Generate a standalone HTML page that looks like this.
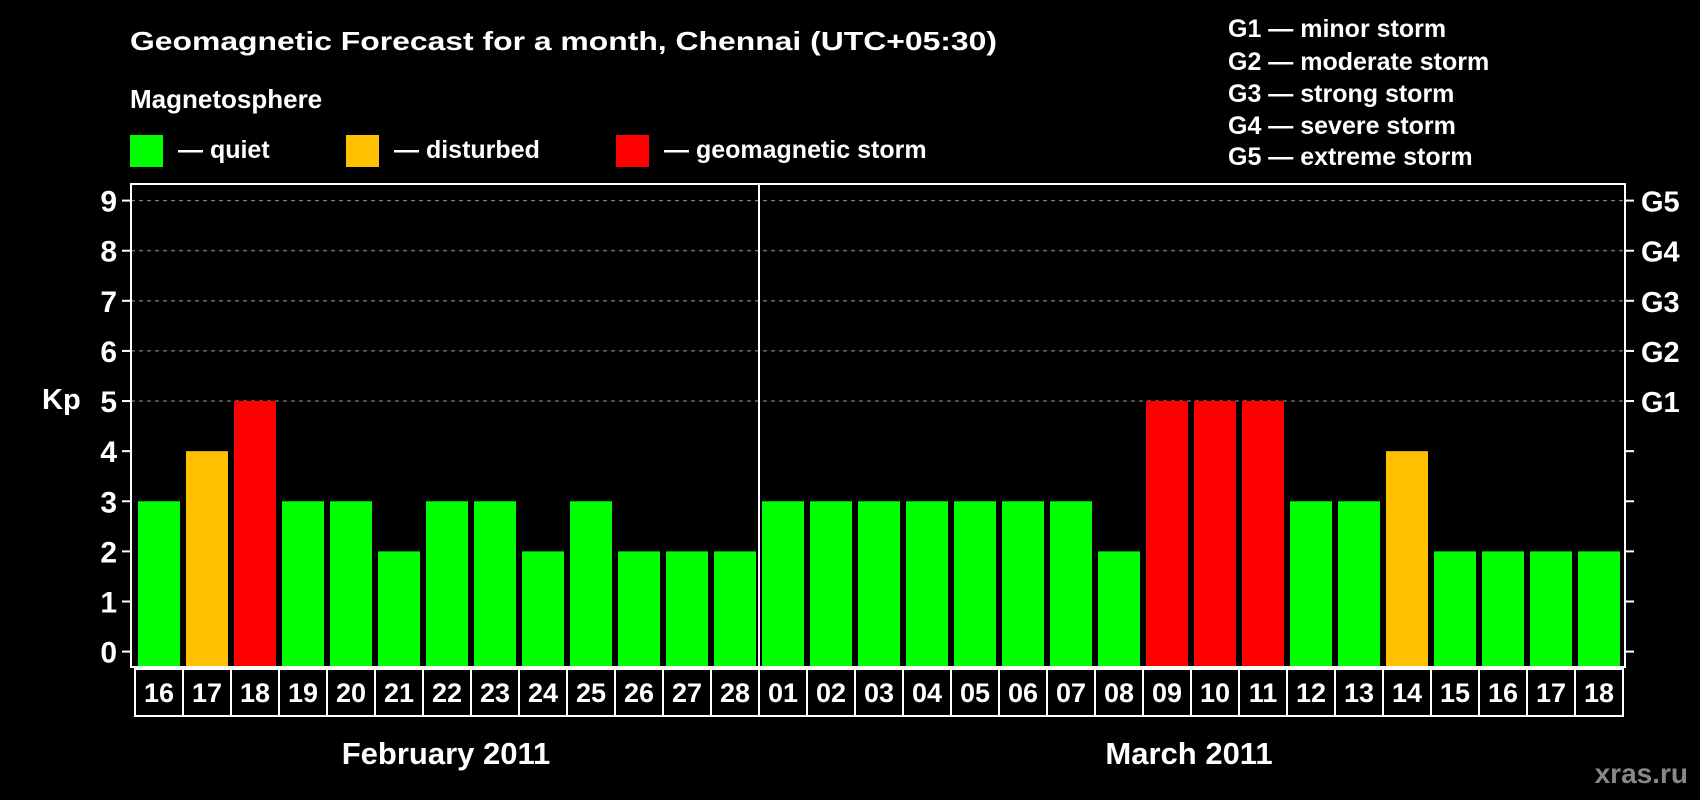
<!DOCTYPE html>
<html><head><meta charset="utf-8"><style>
html,body{margin:0;padding:0;background:#000;}
svg{display:block;font-family:"Liberation Sans",Arial,sans-serif;font-weight:bold;}
</style></head><body>
<svg id="chart" width="1700" height="800" viewBox="0 0 1700 800">
<rect width="1700" height="800" fill="#000"/>
<text x="130" y="50" fill="#fff" font-size="26" textLength="867" lengthAdjust="spacingAndGlyphs">Geomagnetic Forecast for a month, Chennai (UTC+05:30)</text>
<text x="130" y="108" fill="#fff" font-size="26">Magnetosphere</text>
<g><rect x="130" y="135" width="33" height="32" fill="#00ff00"/><text x="178" y="158" fill="#fff" font-size="25">— quiet</text></g>
<g><rect x="346" y="135" width="33" height="32" fill="#ffc000"/><text x="394" y="158" fill="#fff" font-size="25">— disturbed</text></g>
<g><rect x="616" y="135" width="33" height="32" fill="#ff0000"/><text x="664" y="158" fill="#fff" font-size="25">— geomagnetic storm</text></g>
<g fill="#fff" font-size="25">
<text x="1228" y="37">G1 — minor storm</text>
<text x="1228" y="70">G2 — moderate storm</text>
<text x="1228" y="102">G3 — strong storm</text>
<text x="1228" y="134">G4 — severe storm</text>
<text x="1228" y="165">G5 — extreme storm</text>
</g>
<text x="42" y="409" fill="#fff" font-size="29">Kp</text>
<g id="grid"></g><g id="bars"></g><g id="axes"></g><g id="days"></g>
<text x="446" y="764" fill="#fff" font-size="31" text-anchor="middle">February 2011</text>
<text x="1189" y="764" fill="#fff" font-size="31" text-anchor="middle">March 2011</text>
<text x="1688" y="783" fill="#888" font-size="28" text-anchor="end">xras.ru</text>
</svg>
<script>
const days = ["16","17","18","19","20","21","22","23","24","25","26","27","28","01","02","03","04","05","06","07","08","09","10","11","12","13","14","15","16","17","18"];
const kpValues = [3,4,5,3,3,2,3,3,2,3,2,2,2,3,3,3,3,3,3,3,2,5,5,5,3,3,4,2,2,2,2];
const yTicks = [0,1,2,3,4,5,6,7,8,9];
const gLabels = ["","","","","","G1","G2","G3","G4","G5"];
const NS="http://www.w3.org/2000/svg";
const L=131,R=1625,T=184,B=667,Y0=651.6,UNIT=(651.6-200.6)/9,X0=135,STEP=48;
const y=v=>Y0-v*UNIT;
const x=i=>X0+i*STEP;
function mk(tag,attrs,parent){const e=document.createElementNS(NS,tag);for(const k in attrs)e.setAttribute(k,attrs[k]);document.getElementById(parent).appendChild(e);return e;}
function color(v){return v>=5?"#ff0000":v>=4?"#ffc000":"#00ff00";}
yTicks.forEach((t,i)=>{
  if(t>=5){const g=mk("line",{x1:L,x2:R,y1:y(t),y2:y(t),stroke:"#999","stroke-dasharray":"4,4","stroke-width":1},"grid");
  
  }
  const tl=mk("line",{x1:L-9,x2:L,y1:y(t),y2:y(t),stroke:"#fff","stroke-width":2},"axes");
  
  
  const tr=mk("line",{x1:R,x2:R+9,y1:y(t),y2:y(t),stroke:"#fff","stroke-width":2},"axes");
  
  
  const lb=mk("text",{x:117,y:y(t)+11,fill:"#fff","font-size":30,"text-anchor":"end"},"axes");
  lb.textContent=t;
  
  
  if(gLabels[i]){const gl=mk("text",{x:1641,y:y(t)+11,fill:"#fff","font-size":29},"axes");
  gl.textContent=gLabels[i];
  
  }
});
kpValues.forEach((v,i)=>{
  const b=mk("rect",{x:x(i)+3,y:y(v),width:42,height:B-y(v),fill:color(v)},"bars");
  
  
  const bx=mk("rect",{x:x(i),y:669,width:STEP,height:47,fill:"none",stroke:"#fff","stroke-width":2},"days");
  
  
  const dt=mk("text",{x:x(i)+STEP/2,y:702,fill:"#fff","font-size":27,"text-anchor":"middle"},"days");
  dt.textContent=days[i];
  
  
});
const fr=mk("rect",{x:L,y:T,width:R-L,height:B-T,fill:"none",stroke:"#fff","stroke-width":2},"axes");


const dv=mk("line",{x1:x(13),x2:x(13),y1:T,y2:B,stroke:"#fff","stroke-width":2},"axes");


</script>
</body></html>
